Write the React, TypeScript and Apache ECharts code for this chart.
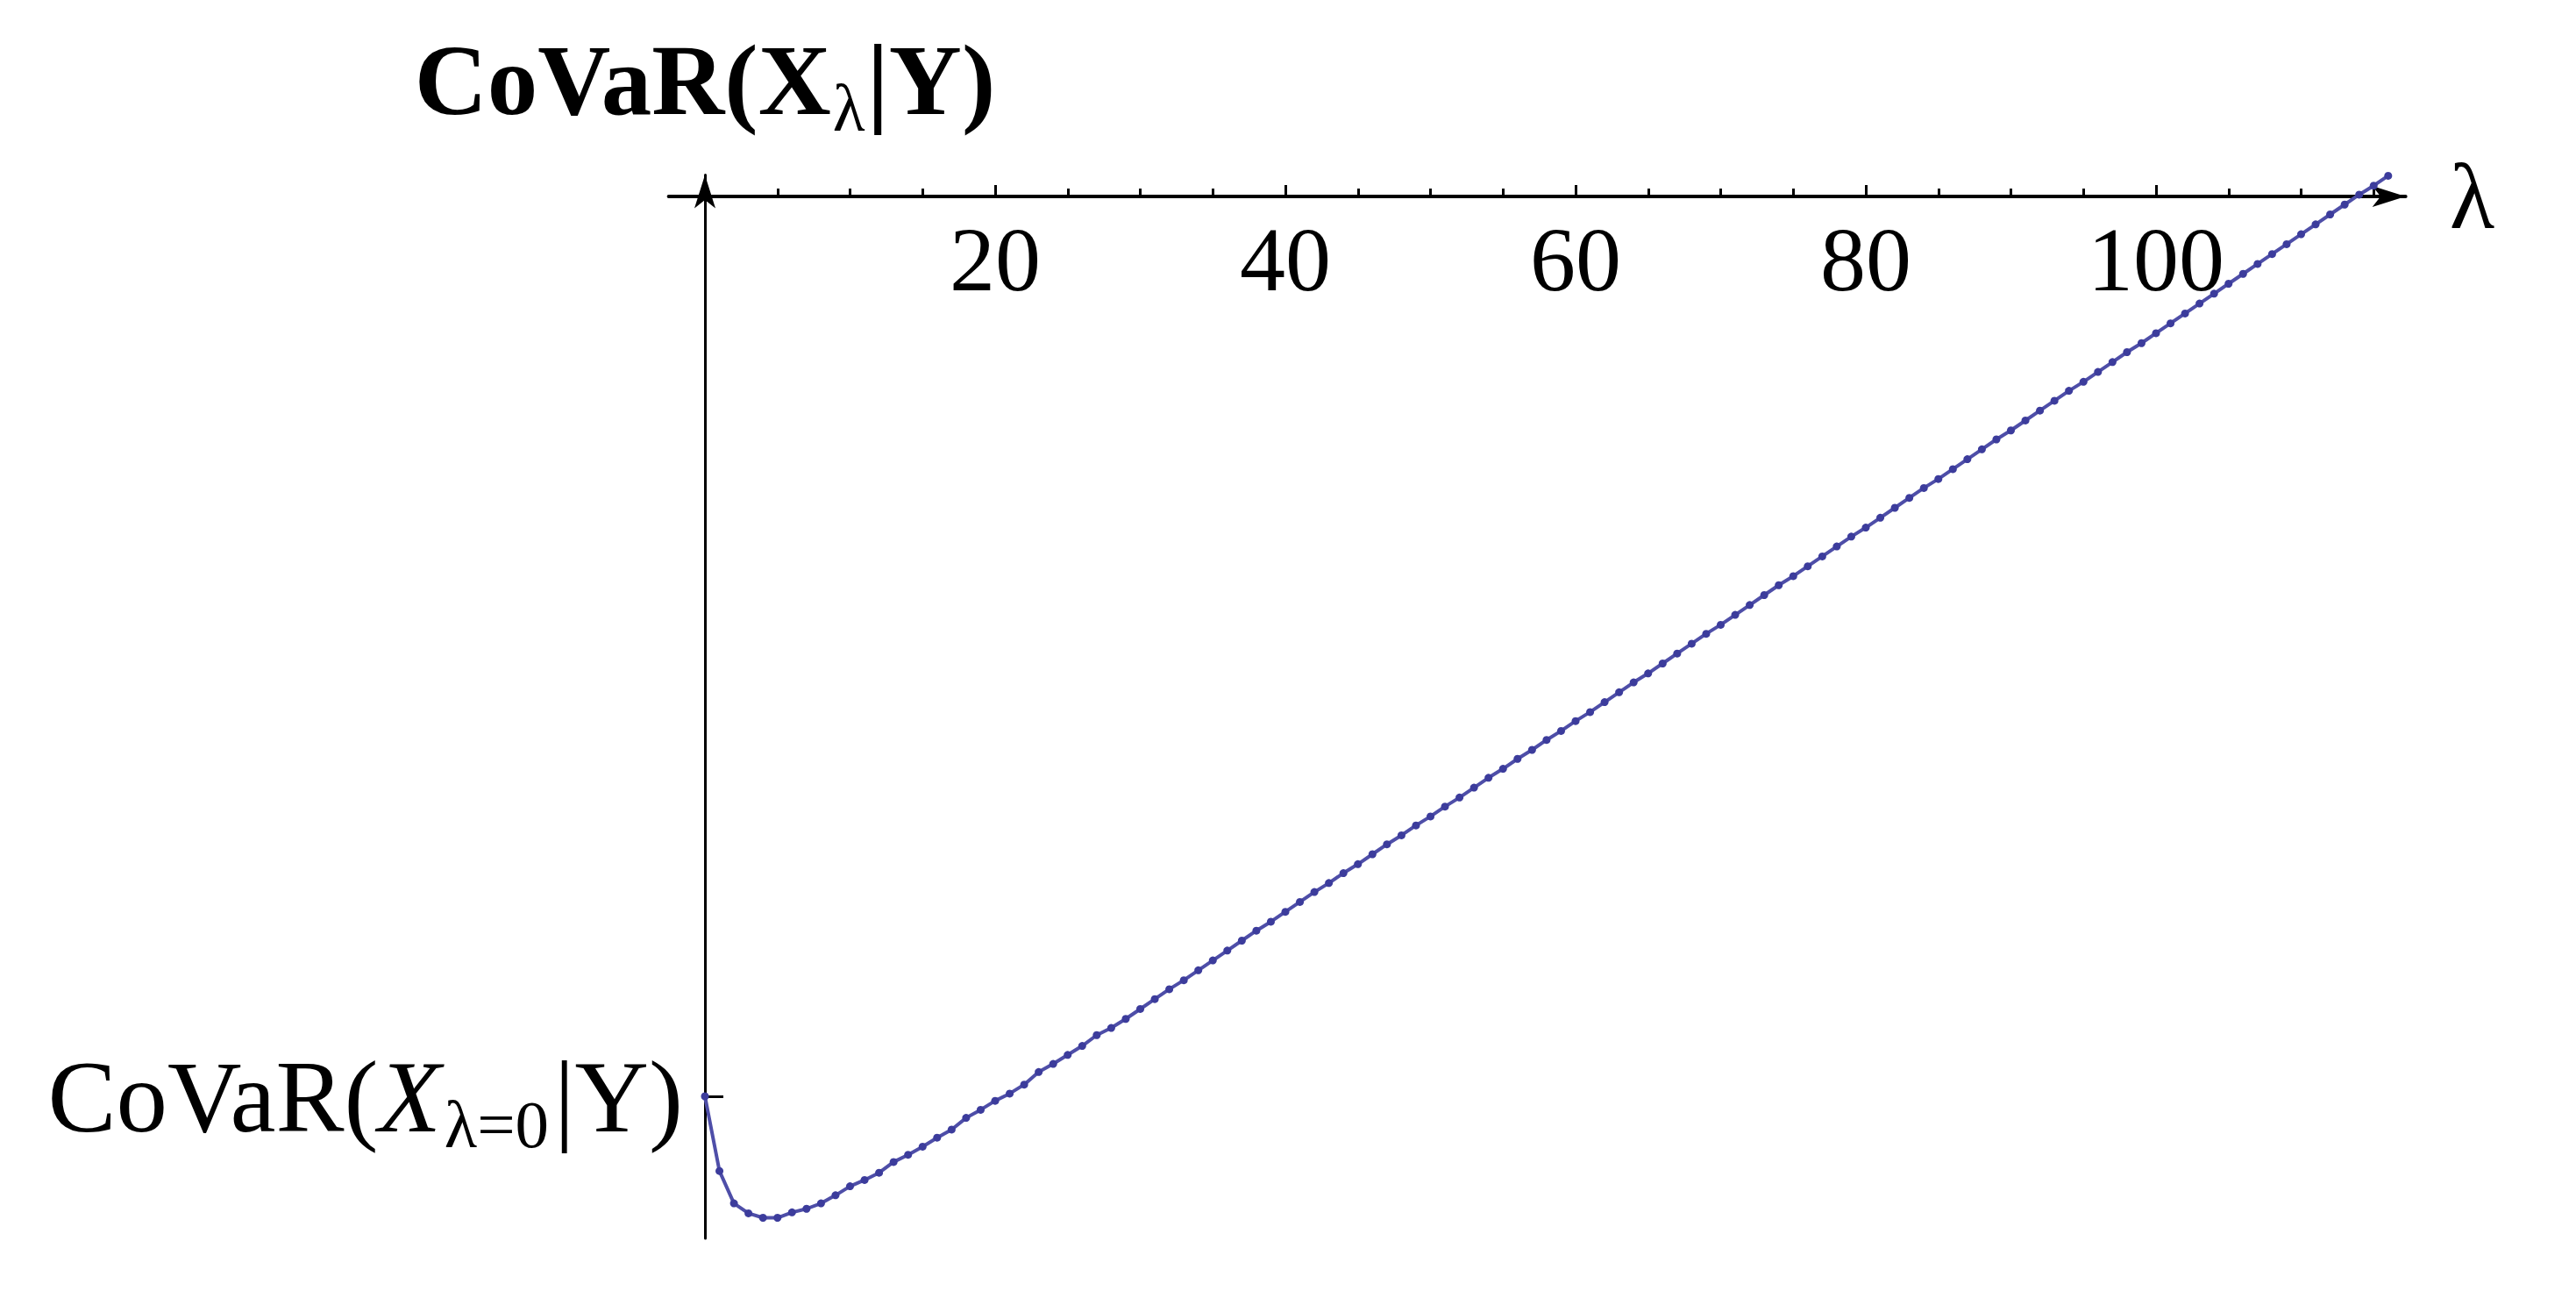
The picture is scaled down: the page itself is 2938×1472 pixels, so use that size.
import React, { useEffect, useRef } from 'react';
import * as echarts from 'echarts';

// lambda grid of the computed points
const LAMBDA = [
  0, 1, 2, 3, 4, 5, 6, 7, 8, 9, 10, 11, 12, 13, 14, 15, 16, 17, 18, 19,
  20, 21, 22, 23, 24, 25, 26, 27, 28, 29, 30, 31, 32, 33, 34, 35, 36, 37, 38, 39,
  40, 41, 42, 43, 44, 45, 46, 47, 48, 49, 50, 51, 52, 53, 54, 55, 56, 57, 58, 59,
  60, 61, 62, 63, 64, 65, 66, 67, 68, 69, 70, 71, 72, 73, 74, 75, 76, 77, 78, 79,
  80, 81, 82, 83, 84, 85, 86, 87, 88, 89, 90, 91, 92, 93, 94, 95, 96, 97, 98, 99,
  100, 101, 102, 103, 104, 105, 106, 107, 108, 109, 110, 111, 112, 113, 114, 115, 116,
];

// CoVaR(X_lambda | Y), in units where CoVaR(X_0 | Y) = -10
const COVAR = [
  -10.0, -10.83, -11.19, -11.3, -11.35, -11.35, -11.29, -11.25, -11.19, -11.1,
  -11.0, -10.93, -10.85, -10.73, -10.65, -10.56, -10.46, -10.37, -10.24, -10.15,
  -10.05, -9.97, -9.87, -9.73, -9.64, -9.54, -9.44, -9.32, -9.24, -9.14,
  -9.03, -8.92, -8.81, -8.71, -8.6, -8.49, -8.38, -8.27, -8.16, -8.06,
  -7.95, -7.84, -7.73, -7.63, -7.52, -7.42, -7.31, -7.2, -7.1, -6.99,
  -6.89, -6.78, -6.68, -6.57, -6.46, -6.36, -6.25, -6.15, -6.04, -5.94,
  -5.83, -5.73, -5.62, -5.51, -5.4, -5.3, -5.19, -5.08, -4.97, -4.86,
  -4.76, -4.65, -4.54, -4.43, -4.32, -4.22, -4.11, -4.0, -3.89, -3.78,
  -3.68, -3.57, -3.46, -3.35, -3.24, -3.14, -3.03, -2.92, -2.81, -2.7,
  -2.6, -2.49, -2.38, -2.27, -2.16, -2.06, -1.95, -1.84, -1.73, -1.63,
  -1.52, -1.41, -1.3, -1.19, -1.08, -0.97, -0.86, -0.75, -0.64, -0.53,
  -0.42, -0.31, -0.2, -0.09, 0.02, 0.12, 0.23,
];

const X_MAJOR_TICKS = [20, 40, 60, 80, 100];
const X_MINOR_TICKS = [5, 10, 15, 25, 30, 35, 45, 50, 55, 65, 70, 75, 85, 90, 95, 105, 110, 115];
const Y_TICKS = [-10];

// axis ranges
const X_MIN = -2.5;
const X_MAX = 117.2;
const Y_MIN = -11.58;
const Y_MAX = 0.24;

// pixel position of the origin and scale
const OX = 804;
const OY = 224;
const KX = 16.55;
const KY = 102.6;

const FONT = 'Liberation Serif';
const CURVE = '#4e4ea8';

const gridBox = {
  left: OX + X_MIN * KX,
  top: OY - Y_MAX * KY,
  width: (X_MAX - X_MIN) * KX,
  height: (Y_MAX - Y_MIN) * KY,
};

// grids for the tick rows: their top edge lies on the lambda axis
const tickBox = {
  left: gridBox.left,
  width: gridBox.width,
  top: OY,
  height: 200,
};

const hiddenY = (gridIndex: number) => ({
  type: 'value' as const,
  gridIndex,
  min: Y_MIN,
  max: Y_MAX,
  show: false,
});

const tickX = (gridIndex: number, values: number[], length: number, labels: boolean) => ({
  type: 'value' as const,
  gridIndex,
  min: X_MIN,
  max: X_MAX,
  position: 'top' as const,
  axisLine: { show: false, onZero: false },
  splitLine: { show: false },
  axisTick: {
    show: true,
    inside: false,
    length,
    customValues: values,
    lineStyle: { color: '#000', width: 3 },
  },
  axisLabel: {
    show: labels,
    inside: true,
    customValues: values,
    margin: 19,
    color: '#000',
    fontFamily: FONT,
    fontSize: 104,
  },
});

const App = () => {
  const divEL = useRef<HTMLDivElement>(null);

  useEffect(() => {
    const instance = echarts.init(divEL.current as any, null, { renderer: 'svg' });

    const option: any = {
      animation: false,
      backgroundColor: '#ffffff',
      grid: [{ ...gridBox }, { ...tickBox }, { ...tickBox }],
      xAxis: [
        {
          type: 'value',
          gridIndex: 0,
          min: X_MIN,
          max: X_MAX,
          position: 'bottom',
          axisLine: {
            show: true,
            onZero: true,
            symbol: ['none', 'arrow'],
            symbolSize: [18, 38],
            lineStyle: { color: '#000', width: 4 },
          },
          axisTick: { show: false },
          axisLabel: { show: false },
          splitLine: { show: false },
          name: 'λ',
          nameLocation: 'end',
          nameGap: 50,
          nameTextStyle: { color: '#000', fontFamily: FONT, fontSize: 106 },
        },
        tickX(1, X_MINOR_TICKS, 9, false),
        tickX(2, X_MAJOR_TICKS, 13, true),
      ],
      yAxis: [
        {
          type: 'value',
          gridIndex: 0,
          min: Y_MIN,
          max: Y_MAX,
          axisLine: {
            show: true,
            onZero: true,
            symbol: ['none', 'arrow'],
            symbolSize: [18, 38],
            lineStyle: { color: '#000', width: 3 },
          },
          axisTick: {
            show: true,
            inside: true,
            length: 21,
            customValues: Y_TICKS,
            lineStyle: { color: '#000', width: 3 },
          },
          axisLabel: {
            show: true,
            customValues: Y_TICKS,
            // labels stay at the grid edge, so pull them back toward the axis at x = 0
            margin: 25 - (OX - gridBox.left),
            formatter: () => '{n|CoVaR(}{i|X}{s|λ=0}{n||Y)}',
            rich: {
              n: { fontFamily: FONT, fontSize: 117, lineHeight: 117, color: '#000', verticalAlign: 'top' },
              i: {
                fontFamily: FONT,
                fontSize: 117,
                lineHeight: 117,
                fontStyle: 'italic',
                color: '#000',
                verticalAlign: 'top',
              },
              s: {
                fontFamily: FONT,
                fontSize: 77,
                lineHeight: 77,
                padding: [52, 6, 0, 4],
                color: '#000',
                verticalAlign: 'top',
              },
            },
          },
          splitLine: { show: false },
          name: '{b|CoVaR(X}{s|λ}{b||Y)}',
          nameLocation: 'end',
          nameGap: 50,
          nameTextStyle: {
            rich: {
              b: {
                fontFamily: FONT,
                fontSize: 115,
                lineHeight: 115,
                fontWeight: 'bold',
                color: '#000',
                verticalAlign: 'top',
              },
              s: {
                fontFamily: FONT,
                fontSize: 76,
                lineHeight: 76,
                padding: [51, 2, 0, 2],
                color: '#000',
                verticalAlign: 'top',
              },
            },
          },
        },
        hiddenY(1),
        hiddenY(2),
      ],
      series: [
        {
          name: 'CoVaR',
          type: 'line',
          xAxisIndex: 0,
          yAxisIndex: 0,
          data: LAMBDA.map((l, i) => [l, COVAR[i]]),
          symbol: 'circle',
          symbolSize: 9,
          showSymbol: true,
          clip: false,
          lineStyle: { color: CURVE, width: 4 },
          itemStyle: { color: '#3c3c9c' },
        },
      ],
    };

    instance.setOption(option);

    return () => {
      instance.dispose();
    };
  }, []);

  return (
    <div
      ref={divEL}
      style={{ position: 'fixed', left: 0, top: 0, width: 2938, height: 1472, background: '#fff' }}
    ></div>
  );
};

export default App;
